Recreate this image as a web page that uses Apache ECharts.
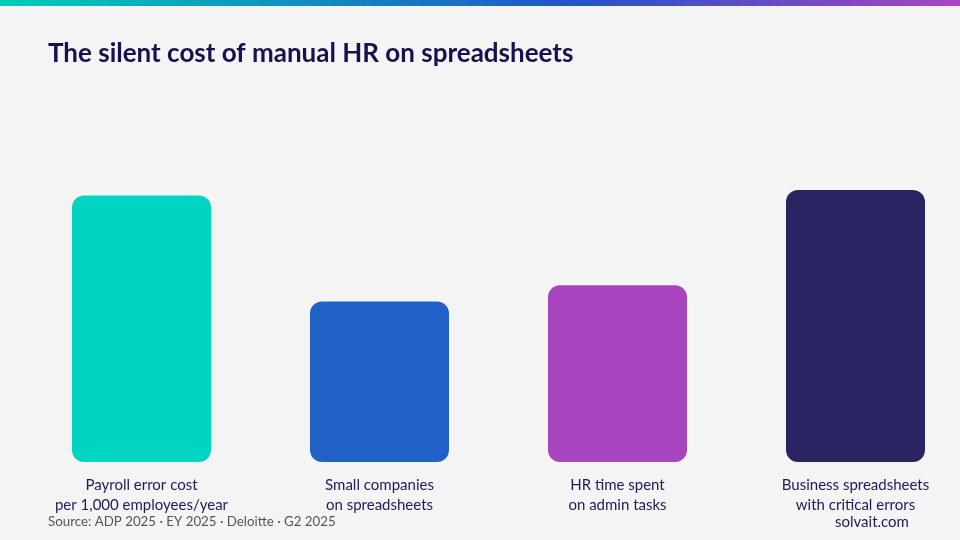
<!DOCTYPE html>
<html>
<head>
<meta charset="utf-8">
<script src="https://cdn.jsdelivr.net/npm/echarts@6/dist/echarts.min.js"></script>
<style>
  html, body { margin: 0; padding: 0; background: #f4f4f4; }
  #chart { width: 960px; height: 540px; }
</style>
</head>
<body>
<div id="chart"></div>
<script>
// data (relative bar heights, tallest = 100)
const categories = [
  'Payroll error cost\nper 1,000 employees/year',
  'Small companies\non spreadsheets',
  'HR time spent\non admin tasks',
  'Business spreadsheets\nwith critical errors'
];
const values = [98, 59, 65, 100];
const barColors = ['#00d4c2', '#2162c9', '#a845be', '#2a2462'];
const catIndex = [0, 1, 2, 3];

const chartDom = document.getElementById('chart');
const myChart = echarts.init(chartDom);

// bars sit 238px apart, first centre at x=141.5
const step = 238;
const xMin = -141.5 / step;
const xMax = xMin + 960 / step;

const option = {
  backgroundColor: '#f4f4f4',
  animation: false,
  graphic: [
    {
      type: 'rect',
      left: 0, top: 0,
      shape: {width: 960, height: 6},
      style: {
        fill: new echarts.graphic.LinearGradient(0, 0, 1, 0, [
          {offset: 0, color: '#00ccb8'},
          {offset: 0.6, color: '#2155c8'},
          {offset: 1, color: '#aa44c0'}
        ])
      }
    },
    {
      type: 'text',
      left: 48, top: 41,
      style: {
        text: 'The silent cost of manual HR on spreadsheets',
        font: 'bold 26px Lato, "Noto Sans", sans-serif',
        fill: '#17124f'
      }
    },
    {
      type: 'text',
      left: 48, top: 515,
      style: {
        text: 'Source: ADP 2025 · EY 2025 · Deloitte · G2 2025',
        font: '13.3px Lato, "Noto Sans", sans-serif',
        fill: '#555555'
      }
    },
    {
      type: 'text',
      left: 835, top: 515,
      style: {
        text: 'solvait.com',
        font: '15px Lato, "Noto Sans", sans-serif',
        fill: '#1f1b55'
      }
    }
  ],
  grid: {left: 0, right: 0, top: 190, height: 272},
  xAxis: {
    type: 'value',
    min: xMin,
    max: xMax,
    axisLine: {show: false},
    axisTick: {show: false},
    splitLine: {show: false},
    axisLabel: {
      customValues: catIndex,
      formatter: (v) => categories[Math.round(v)],
      margin: 13,
      color: '#1f1b55',
      fontSize: 15,
      lineHeight: 20,
      fontFamily: 'Lato, "Noto Sans", sans-serif'
    }
  },
  yAxis: {
    type: 'value',
    min: 0, max: 100,
    show: false,
    splitLine: {show: false}
  },
  series: [{
    type: 'bar',
    barWidth: 139,
    data: values.map((v, i) => ({
      value: [catIndex[i], v],
      itemStyle: {color: barColors[i], borderRadius: 12}
    }))
  }]
};
option && myChart.setOption(option);
</script>
</body>
</html>
